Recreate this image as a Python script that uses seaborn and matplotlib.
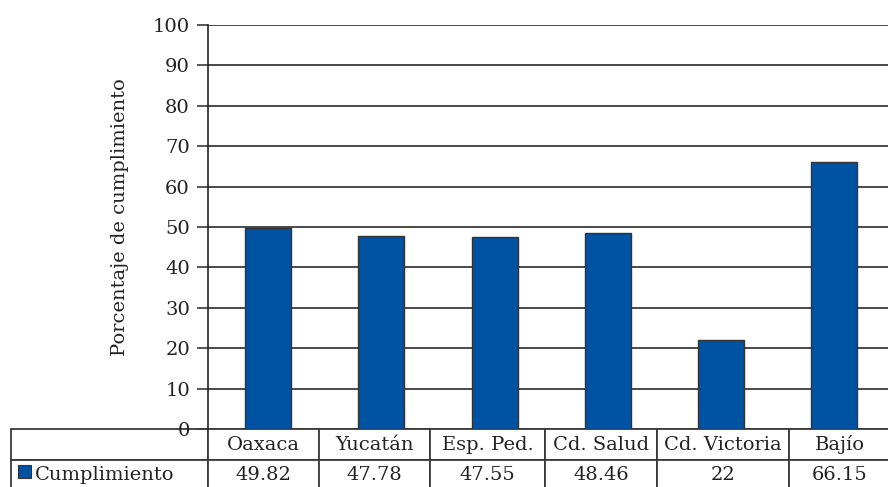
import matplotlib
matplotlib.use("Agg")
import matplotlib.pyplot as plt
from matplotlib.patches import Rectangle
import seaborn as sns
import pandas as pd

# Compliance percentage per site
categories = ["Oaxaca", "Yucatán", "Esp. Ped.", "Cd. Salud", "Cd. Victoria", "Bajío"]
values = [49.82, 47.78, 47.55, 48.46, 22, 66.15]
value_labels = ["49.82", "47.78", "47.55", "48.46", "22", "66.15"]
series_name = "Cumplimiento"
y_ticks = list(range(0, 101, 10))

BAR_COLOR = "#0052A3"
LINE_COLOR = "#3a3a3a"
FONT = "DejaVu Serif"
FS = 14

sns.set_theme(style="white")
plt.rcParams["font.family"] = [FONT, "DejaVu Sans"]

W, H = 888, 487
fig = plt.figure(figsize=(W / 100, H / 100), dpi=100)
ax = fig.add_axes([208 / W, 1 - 429 / H, 683 / W, 404 / H])

df = pd.DataFrame({"sitio": categories, "valor": values})
sns.barplot(data=df, x="sitio", y="valor", color=BAR_COLOR, saturation=1,
            width=0.405, edgecolor="#333333", linewidth=1.0, ax=ax, zorder=3)

ax.set_xlim(-0.53, 5.5)
ax.set_ylim(0, 100)
ax.set_yticks(y_ticks)
ax.set_yticklabels([str(t) for t in y_ticks], fontsize=FS, color="#222222")
ax.set_xticks([])
ax.set_xlabel("")
ax.set_ylabel("")
ax.yaxis.grid(True, color=LINE_COLOR, linewidth=1.3, zorder=0)
ax.set_axisbelow(True)
ax.tick_params(axis="y", which="major", direction="out", length=8, width=1.2,
               color=LINE_COLOR, pad=5, left=True)
for side in ("top", "right", "bottom"):
    ax.spines[side].set_visible(False)
ax.spines["left"].set_color("#222222")
ax.spines["left"].set_linewidth(1.2)

fig.text(120 / W, 1 - 217 / H, "Porcentaje de cumplimiento", rotation=90,
         ha="center", va="center", fontsize=FS, color="#222222")

# Data table under the plot: header row with site names, value row
col_edges_px = [11, 208, 319, 430, 545, 657, 789, 891]
ax_left, ax_w = 208, 683
col_widths = [(col_edges_px[i + 1] - col_edges_px[i]) / ax_w for i in range(len(col_edges_px) - 1)]
x0 = (col_edges_px[0] - ax_left) / ax_w
row_h = 31 / 404
cell_text = [[""] + categories, [series_name] + value_labels]
tbl = ax.table(cellText=cell_text, colWidths=col_widths, cellLoc="center",
               bbox=[x0, -2 * row_h, sum(col_widths), 2 * row_h])
tbl.auto_set_font_size(False)
tbl.set_fontsize(FS)
for (r, c), cell in tbl.get_celld().items():
    cell.set_edgecolor(LINE_COLOR)
    cell.set_linewidth(1.3)
    cell.get_text().set_color("#222222")
    cell.get_text().set_fontfamily(FONT)
cell = tbl[1, 0]
cell.get_text().set_ha("left")
cell._loc = "left"
cell.PAD = 24 / 197
fig.patches.append(Rectangle((18 / W, 1 - 478 / H), 13 / W, 13 / H,
                             transform=fig.transFigure, facecolor=BAR_COLOR,
                             edgecolor="#333333", linewidth=0.8))

fig.savefig("out.png", dpi=100)
